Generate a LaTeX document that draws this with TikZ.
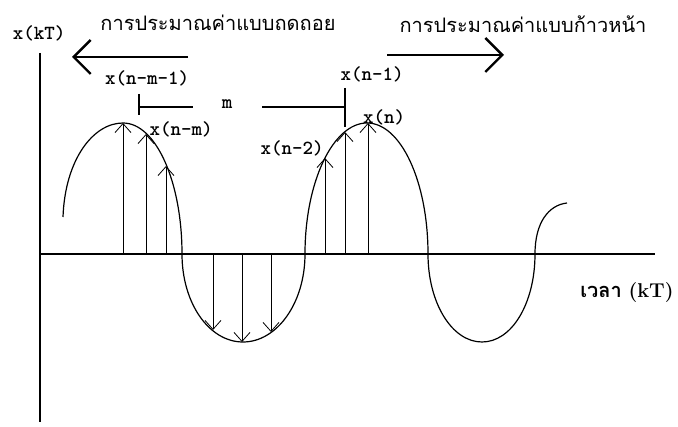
\documentclass[tikz,border=0pt]{standalone}
\usepackage{fontspec}
\newfontfamily\thaifont[Script=Thai]{Loma}
\usetikzlibrary{arrows.meta,positioning}

\begin{document}
\begin{tikzpicture}[x=1pt,y=-1pt,
  every node/.style={inner sep=0pt,outer sep=0pt},
  axis/.style={line width=2.4pt,line cap=butt},
  wave/.style={line width=1.2pt},
  stem/.style={line width=0.8pt,-{Straight Barb[length=9pt,width=16pt]}},
  dirarr/.style={line width=2.4pt,-{Straight Barb[length=17pt,width=34pt]}},
  brk/.style={line width=1.8pt},
  lbl/.style={font=\fontsize{20}{22}\selectfont\ttfamily\bfseries},
  thai/.style={font=\fontsize{20}{24}\selectfont\thaifont},
]
\useasboundingbox (0,0) rectangle (678,427);

\coordinate (O) at (40,254);
\coordinate (ytop) at (40,53);
\coordinate (ybot) at (40,422);
\coordinate (xend) at (655,254);
\draw[axis] (ytop) -- (ybot);
\draw[axis] (O) -- (xend);

\draw[wave] (63,217) .. controls (65,160) and (93,123) .. (123,123)
  .. controls (156,123) and (182,182) .. (182,254)
  .. controls (182,303) and (209,342) .. (243,342)
  .. controls (277,342) and (305,303) .. (305,254)
  .. controls (305,182) and (333,123) .. (367,123)
  .. controls (401,123) and (428,182) .. (428,254)
  .. controls (428,303) and (452,342) .. (482,342)
  .. controls (512,342) and (535,303) .. (535,254)
  .. controls (535,222) and (549,205) .. (567,203);

\coordinate (s1) at (123,123);
\coordinate (s2) at (146,134);
\coordinate (s3) at (166,166);
\coordinate (s4) at (213,330);
\coordinate (s5) at (242,342);
\coordinate (s6) at (271,332);
\coordinate (s7) at (325,158);
\coordinate (s8) at (345,132);
\coordinate (s9) at (368,123);
\draw[stem] (s1 |- O) -- (s1);
\draw[stem] (s2 |- O) -- (s2);
\draw[stem] (s3 |- O) -- (s3);
\draw[stem] (s4 |- O) -- (s4);
\draw[stem] (s5 |- O) -- (s5);
\draw[stem] (s6 |- O) -- (s6);
\draw[stem] (s7 |- O) -- (s7);
\draw[stem] (s8 |- O) -- (s8);
\draw[stem] (s9 |- O) -- (s9);

\node[lbl] (xkt) at (39,33) {x(kT)};
\node[lbl] (xnm1) at (147,78) {x(n-m-1)};
\node[lbl] (xnm) at (181,129) {x(n-m)};
\node[lbl] (xn2) at (292,148) {x(n-2)};
\node[lbl] (xn1) at (372,74) {x(n-1)};
\node[lbl] (xn) at (384,117) {x(n)};

\node[lbl] (mlbl) at (227,104) {m};
\coordinate (mL) at (139,107);
\coordinate (mLe) at (193,107);
\coordinate (mRs) at (262,107);
\coordinate (mR) at (345,107);
\draw[brk] (mL) -- (mLe);
\draw[brk] (mRs) -- (mR);
\draw[brk] ([yshift=13pt]mL) -- ([yshift=-8pt]mL);
\draw[brk] ([yshift=19pt]mR) -- ([yshift=-20pt]mR);

\node[thai] (back) at (218,23) {การประมาณค่าแบบถดถอย};
\coordinate (bR) at (188,57);
\coordinate (bL) at (72,57);
\draw[dirarr] (bR) -- (bL);

\node[thai] (fwd) at (523,24) {การประมาณค่าแบบก้าวหน้า};
\coordinate (fL) at (387,55);
\coordinate (fR) at (504,55);
\draw[dirarr] (fL) -- (fR);

\node[thai,font=\fontsize{20}{24}\selectfont\thaifont\bfseries] (time) at (627,293) {เวลา {\rmfamily\bfseries (kT)}};
\end{tikzpicture}
\end{document}
